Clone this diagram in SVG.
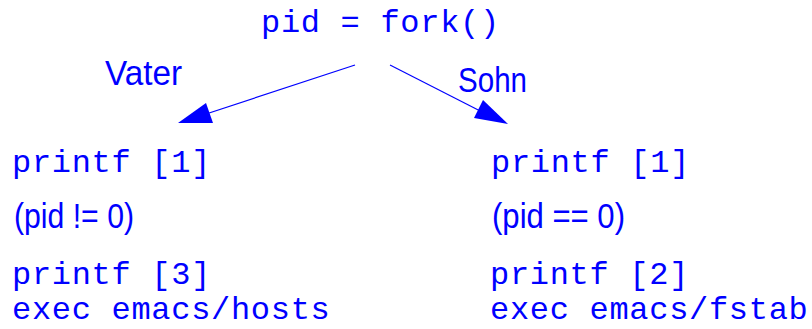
<svg xmlns="http://www.w3.org/2000/svg" width="812" height="329" viewBox="0 0 812 329">
  <style>
    .code { font-family: "Liberation Mono", "Courier New", monospace; font-size: 32px; letter-spacing: 0.7px; fill: #0000ff; }
    .label { font-family: "Liberation Sans", Arial, sans-serif; font-size: 35px; fill: #0000ff; }
    .edge { stroke: #0000ff; stroke-width: 1.2; fill: none; }
    .head { fill: #0000ff; stroke: none; }
  </style>
  <rect width="812" height="329" fill="#ffffff"/>

  <!-- fork call -->
  <g id="fork">
    <text class="code" x="261" y="32">pid = fork()</text>
  </g>

  <!-- branches to parent and child -->
  <g id="connectors">
    <line class="edge" x1="355" y1="65" x2="200" y2="116"/>
    <polygon class="head" points="178,123 206,103 213,123"/>
    <line class="edge" x1="390" y1="65" x2="490" y2="116"/>
    <polygon class="head" points="508,124 483,100 474,118"/>
  </g>

  <g id="label-vater">
    <text class="label" x="105" y="85" textLength="77" lengthAdjust="spacingAndGlyphs">Vater</text>
  </g>
  <g id="label-sohn">
    <text class="label" x="458" y="92" textLength="69" lengthAdjust="spacingAndGlyphs">Sohn</text>
  </g>

  <!-- parent process -->
  <g id="vater">
    <text class="code" x="12" y="172">printf [1]</text>
    <text class="label" x="14" y="228" textLength="120" lengthAdjust="spacingAndGlyphs">(pid != 0)</text>
    <text class="code" x="12" y="284">printf [3]</text>
    <text class="code" x="12" y="319">exec emacs/hosts</text>
  </g>

  <!-- child process -->
  <g id="sohn">
    <text class="code" x="491" y="172">printf [1]</text>
    <text class="label" x="492" y="228" textLength="133" lengthAdjust="spacingAndGlyphs">(pid == 0)</text>
    <text class="code" x="490" y="284">printf [2]</text>
    <text class="code" x="490" y="319">exec emacs/fstab</text>
  </g>
</svg>
